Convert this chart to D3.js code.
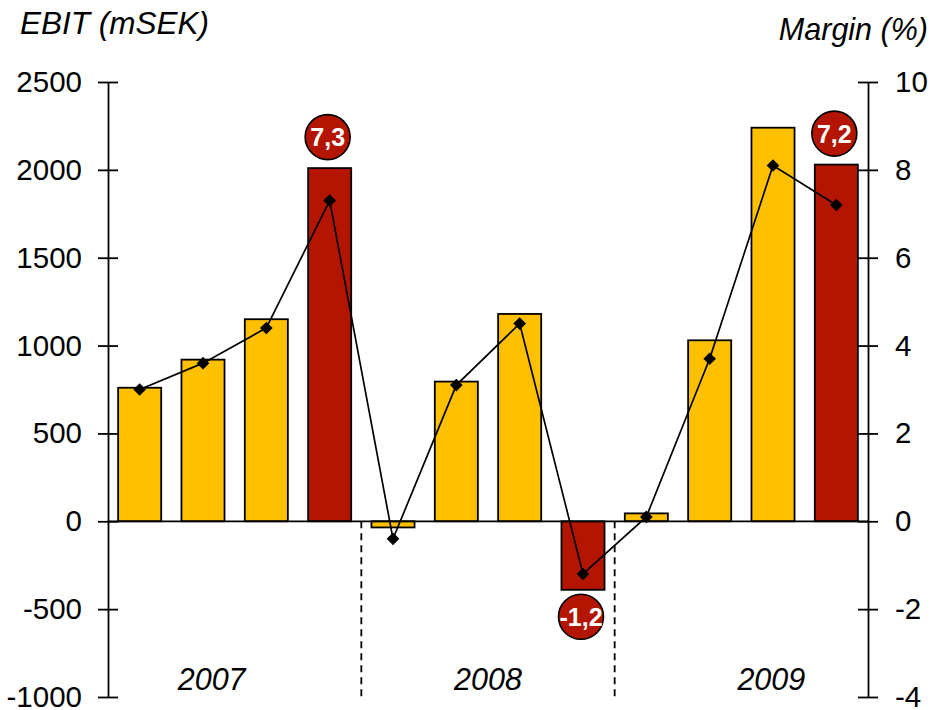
<!DOCTYPE html>
<html>
<head>
<meta charset="utf-8">
<script src="https://cdn.jsdelivr.net/npm/d3@7"></script>
<style>
  html, body { margin: 0; padding: 0; background: #fff; }
  svg { display: block; font-family: "Liberation Sans", Arial, sans-serif; }
</style>
</head>
<body>
<svg id="chart" width="935" height="710"></svg>
<script>
// Quarterly EBIT (mSEK) and operating margin (%), 2007–2009
const quarters = ["Q1 07","Q2 07","Q3 07","Q4 07","Q1 08","Q2 08","Q3 08","Q4 08","Q1 09","Q2 09","Q3 09","Q4 09"];
const ebit = [760, 920, 1150, 2010, -35, 795, 1180, -390, 45, 1030, 2240, 2030];
const margin = [3.0, 3.6, 4.4, 7.3, -0.4, 3.1, 4.5, -1.2, 0.1, 3.7, 8.1, 7.2];
const highlighted = [false, false, false, true, false, false, false, true, false, false, false, true];
const years = ["2007", "2008", "2009"];
const ebitTicks = [-1000, -500, 0, 500, 1000, 1500, 2000, 2500];
const marginTicks = [-4, -2, 0, 2, 4, 6, 8, 10];

const YELLOW = "#FFC000";
const RED = "#B31500";

const svg = d3.select("#chart");
const plotLeft = 108, plotRight = 868, plotTop = 82, plotBottom = 697;

const x = d3.scaleBand().domain(quarters).range([plotLeft, plotRight])
  .paddingInner(0.32).paddingOuter(0.16);
const yL = d3.scaleLinear().domain([-1000, 2500]).range([plotBottom, plotTop]);
const yR = d3.scaleLinear().domain([-4, 10]).range([plotBottom, plotTop]);
const step = x.step();
const plainInt = d => String(Math.round(d)); // hyphen-minus, no grouping

// Titles
svg.append("text").attr("x", 20).attr("y", 34)
  .attr("font-size", 31.5).attr("font-style", "italic").text("EBIT (mSEK)");
svg.append("text").attr("x", 928).attr("y", 40).attr("text-anchor", "end")
  .attr("font-size", 30.5).attr("font-style", "italic").text("Margin (%)");

// Bars
svg.append("g").selectAll("rect").data(quarters).join("rect")
  .attr("x", d => x(d))
  .attr("width", x.bandwidth())
  .attr("y", (d, i) => yL(Math.max(0, ebit[i])))
  .attr("height", (d, i) => Math.abs(yL(ebit[i]) - yL(0)))
  .attr("fill", (d, i) => highlighted[i] ? RED : YELLOW)
  .attr("stroke", "#000").attr("stroke-width", 1.8);

// Zero line
svg.append("line").attr("x1", plotLeft).attr("x2", plotRight)
  .attr("y1", yL(0)).attr("y2", yL(0))
  .attr("stroke", "#000").attr("stroke-width", 1.8);

// Year separators (dashed) between groups of four quarters
[4, 8].forEach(k => {
  const xs = x(quarters[k]) - step * x.paddingInner() / 2;
  svg.append("line").attr("x1", xs).attr("x2", xs)
    .attr("y1", yL(0)).attr("y2", plotBottom)
    .attr("stroke", "#000").attr("stroke-width", 1.8)
    .attr("stroke-dasharray", "7,5");
});

// Year labels
const yearShift = [-23, 0, 30];
years.forEach((yr, g) => {
  const cx = x(quarters[g * 4]) - step * x.paddingInner() / 2 + 2 * step;
  svg.append("text").attr("x", cx + yearShift[g]).attr("y", 690)
    .attr("text-anchor", "middle").attr("font-size", 30.5)
    .attr("font-style", "italic").text(yr);
});

// Axes with crossing ticks
function drawAxis(axis, xPos) {
  const g = svg.append("g").attr("transform", `translate(${xPos},0)`).call(axis);
  g.select(".domain").attr("stroke", "#000").attr("stroke-width", 1.8);
  g.selectAll(".tick line").attr("x1", -10).attr("x2", 10)
    .attr("stroke", "#000").attr("stroke-width", 1.8);
  g.selectAll(".tick text").attr("font-size", 29.5)
    .attr("font-family", "Liberation Sans, Arial, sans-serif").attr("fill", "#000");
  return g;
}
drawAxis(d3.axisLeft(yL).tickValues(ebitTicks).tickSize(10).tickPadding(16).tickSizeOuter(0)
  .tickFormat(plainInt), plotLeft);
drawAxis(d3.axisRight(yR).tickValues(marginTicks).tickSize(10).tickPadding(17).tickSizeOuter(0)
  .tickFormat(plainInt), plotRight);

// Margin line with diamond markers
const cxOf = q => x(q) + x.bandwidth() / 2;
svg.append("path").datum(quarters)
  .attr("fill", "none").attr("stroke", "#000").attr("stroke-width", 1.7)
  .attr("d", d3.line().x(q => cxOf(q)).y((q, i) => yR(margin[i])));
svg.append("g").selectAll("path").data(quarters).join("path")
  .attr("d", d3.symbol(d3.symbolSquare, 80)())
  .attr("transform", (q, i) => `translate(${cxOf(q)},${yR(margin[i])}) rotate(45)`)
  .attr("fill", "#000");

// Margin badges on the fourth-quarter bars
const fmt = v => v.toFixed(1).replace(".", ",");
quarters.forEach((q, i) => {
  if (!highlighted[i]) return;
  const cy = ebit[i] >= 0 ? yL(ebit[i]) - 31 : yL(ebit[i]) + 27;
  const cx = cxOf(q) - 2;
  svg.append("circle").attr("cx", cx).attr("cy", cy).attr("r", 22.5)
    .attr("fill", RED).attr("stroke", "#000").attr("stroke-width", 1.6);
  svg.append("text").attr("x", cx).attr("y", cy + 9)
    .attr("text-anchor", "middle").attr("font-size", 25).attr("font-weight", "bold")
    .attr("fill", "#fff").text(fmt(margin[i]));
});
</script>
</body>
</html>
